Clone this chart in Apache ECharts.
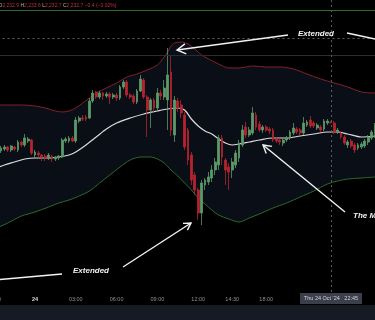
<!DOCTYPE html>
<html><head><meta charset="utf-8">
<script src="https://cdn.jsdelivr.net/npm/echarts/dist/echarts.min.js"></script>
<style>html,body{margin:0;padding:0;background:#000;}#c{width:375px;height:320px;}</style>
</head><body><div id="c"></div>
<script>
// 15-minute candles, index 0 = 21:00 (23 Oct)
const opens = [2218.2,2219.7,2218.7,2219.7,2220.7,2219.2,2220.7,2219.2,2223.2,2221.7,2223.7,2224.2,2216.7,2217.7,2216.7,2216.2,2215.2,2216.2,2214.7,2215.2,
2215.7,2223.7,2223.7,2225.2,2223.7,2233.7,2235.2,2235.7,2235.2,2243.7,2248.2,2245.7,2247.7,2246.2,2247.2,2245.7,2246.7,2245.2,2250.7,2253.2,
2246.7,2246.2,2243.2,2248.7,2254.2,2245.7,2239.2,2244.2,2240.2,2247.7,2245.7,2244.2,2258.2,2226.7,2243.7,2241.7,2236.7,2229.2,2216.7,2206.7,
2199.2,2187.7,2201.7,2203.2,2205.2,2209.2,2211.7,2225.2,2214.2,2210.7,2209.2,2211.7,2215.2,2221.7,2230.7,2226.7,2227.7,2236.7,2232.2,2229.2,
2230.7,2229.7,2229.2,2224.7,2224.2,2222.7,2224.2,2225.2,2227.7,2229.7,2229.2,2227.7,2231.7,2234.2,2232.7,2230.2,2230.7,2229.7,2232.7,2232.9,
2232.7,2228.2,2227.7,2225.7,2221.7,2223.7,2221.7,2220.2,2220.7,2221.2,2223.2,2225.2,2227.7];
const closes = [2219.7,2218.7,2220.2,2220.7,2219.2,2221.2,2219.7,2223.2,2221.7,2225.2,2224.7,2217.7,2218.2,2216.7,2215.7,2215.2,2216.7,2214.7,2215.7,2216.2,
2224.2,2224.7,2225.2,2223.7,2234.2,2235.2,2234.7,2234.7,2243.7,2247.7,2245.7,2247.7,2246.2,2247.2,2245.7,2246.7,2245.2,2250.7,2253.2,2246.7,
2245.7,2243.2,2248.7,2254.7,2245.7,2239.2,2244.2,2240.2,2247.7,2246.2,2250.2,2256.7,2229.2,2244.2,2240.2,2237.7,2220.7,2214.2,2204.2,2199.2,
2187.7,2202.7,2204.2,2205.7,2209.2,2213.2,2225.2,2215.7,2209.2,2208.2,2213.2,2217.7,2222.7,2229.2,2226.7,2229.2,2237.7,2230.7,2229.2,2230.7,
2229.2,2228.7,2224.2,2223.7,2223.2,2224.2,2225.2,2228.2,2230.2,2228.2,2227.7,2232.7,2233.2,2231.2,2231.2,2231.7,2229.2,2233.7,2233.7,2232.7,
2228.2,2229.2,2225.7,2222.7,2223.2,2221.2,2219.2,2221.7,2222.2,2223.7,2225.7,2228.2,2231.7];
const lows = [2217.2,2217.7,2217.7,2218.7,2218.2,2218.2,2218.7,2218.2,2220.7,2220.7,2222.7,2216.7,2215.2,2215.2,2213.7,2213.7,2214.2,2213.2,2213.7,2214.2,
2215.2,2222.7,2222.7,2223.2,2222.7,2232.7,2233.7,2233.7,2234.7,2242.7,2244.7,2244.7,2244.2,2245.2,2242.2,2244.7,2243.7,2244.2,2249.7,2245.7,
2244.7,2242.2,2242.2,2248.2,2244.7,2225.7,2230.2,2238.2,2239.2,2244.2,2244.2,2229.2,2226.2,2223.2,2238.2,2235.2,2219.2,2211.7,2201.7,2196.7,
2184.2,2181.7,2199.2,2201.7,2203.2,2206.7,2209.2,2211.7,2201.7,2199.2,2205.2,2210.2,2213.2,2220.7,2225.2,2225.7,2226.7,2229.2,2228.2,2227.7,
2228.2,2227.2,2223.2,2222.7,2221.7,2221.2,2223.2,2224.2,2226.7,2227.2,2226.7,2226.7,2230.7,2230.2,2230.2,2229.2,2228.2,2228.7,2231.7,2232.7,
2227.2,2227.2,2224.7,2221.7,2220.2,2220.2,2217.7,2219.2,2219.7,2220.2,2221.7,2224.2,2225.2];
const highs = [2220.7,2220.7,2221.2,2221.7,2221.2,2221.7,2221.2,2224.2,2223.7,2227.2,2225.7,2224.7,2219.2,2218.7,2217.2,2217.2,2217.7,2216.7,2216.2,2216.7,
2225.2,2225.7,2226.2,2226.2,2235.7,2236.2,2236.7,2236.7,2245.2,2249.2,2248.7,2248.7,2248.2,2248.2,2248.2,2247.7,2247.7,2251.7,2254.2,2254.2,
2247.7,2247.2,2249.7,2256.7,2255.2,2246.7,2245.2,2245.2,2250.2,2249.2,2254.2,2270.2,2266.7,2246.2,2245.2,2244.2,2238.2,2230.2,2218.2,2208.2,
2200.2,2204.2,2205.2,2208.2,2211.7,2215.2,2226.7,2226.7,2215.2,2212.7,2215.2,2219.2,2224.2,2231.7,2233.2,2230.7,2240.7,2238.2,2233.7,2231.7,
2231.7,2230.7,2230.2,2225.7,2225.2,2225.2,2226.2,2229.2,2232.7,2230.7,2230.2,2235.7,2234.2,2236.2,2233.7,2232.7,2231.7,2234.7,2234.7,2233.6,
2233.7,2230.2,2228.7,2226.7,2224.2,2224.7,2222.7,2222.7,2223.2,2224.7,2226.7,2229.2,2232.7];

// Bollinger bands: [candle index, price]
const upperBand = [[0,2241.7],[4,2241.7],[8,2241.7],[12,2241.2],[15,2240.2],[18,2238.7],[20,2238.2],[22,2238.7],[24,2240.2],[26,2242.7],
[28,2245.2],[30,2247.7],[33,2250.2],[36,2252.7],[39,2255.7],[42,2257.2],[45,2259.2],[48,2261.7],[50,2265.7],[51,2268.2],[52,2271.2],[53,2272.7],
[55,2273.2],[57,2272.2],[59,2269.7],[61,2266.7],[63,2264.7],[66,2262.2],[69,2260.2],[72,2260.2],[76,2261.2],[80,2260.7],[84,2260.7],[88,2259.7],
[92,2257.2],[96,2254.7],[100,2252.7],[104,2250.7],[108,2248.2],[112,2247.7]];
const middleBand = [[0,2209.7],[3,2211.7],[6,2213.2],[9,2214.7],[12,2215.2],[16,2215.2],[19,2215.7],[22,2216.7],[24,2218.2],[27,2221.7],
[30,2225.7],[33,2229.7],[36,2232.7],[40,2235.2],[44,2237.2],[48,2238.7],[51,2239.7],[54,2240.2],[56,2239.2],[58,2234.7],[60,2231.2],[62,2228.7],
[64,2227.2],[66,2224.7],[68,2222.7],[70,2221.7],[72,2222.2],[75,2223.2],[78,2224.2],[82,2225.2],[86,2225.2],[90,2226.2],[94,2227.2],[98,2228.2],
[101,2228.2],[104,2227.2],[108,2225.7],[112,2226.2]];
const lowerBand = [[0,2179.7],[4,2182.7],[8,2186.2],[12,2188.2],[16,2190.7],[19,2192.7],[22,2194.2],[25,2196.2],[28,2198.7],[31,2202.7],
[34,2206.7],[37,2210.7],[40,2214.2],[43,2215.7],[46,2215.7],[48,2214.7],[50,2212.7],[52,2209.2],[54,2206.2],[56,2202.7],[58,2199.2],[60,2195.2],
[62,2192.2],[64,2189.2],[66,2186.7],[69,2184.7],[72,2183.2],[75,2185.2],[78,2187.2],[82,2190.2],[86,2192.7],[90,2195.7],[94,2198.7],[98,2202.2],
[101,2203.7],[104,2204.7],[108,2205.2],[112,2205.7]];

const tickLabels = [[0,'21:00'],[12,'24'],[24,'03:00'],[36,'06:00'],[48,'09:00'],[60,'12:00'],[70,'14:30'],[80,'18:00']];
const hoverIndex = 99;
const hoverLabel = "Thu 24 Oct '24   22:45";
const legendValues = ['2,232.9','2,233.6','2,232.7','2,232.7','−0.4 (−0.02%)'];
const levelGreen = 2289.2, levelCross = 2275.2, levelDim = 2266.7;

const N = opens.length;
const cats = opens.map((_, i) => String(i));
const labelMap = {}; tickLabels.forEach(t => { labelMap[t[0]] = t[1]; });
const candleData = opens.map((o, i) => [o, closes[i], lows[i], highs[i]]);

const chart = echarts.init(document.getElementById('c'), null, {renderer: 'canvas'});
const W = '#f2f2f2';
const FF = '"Liberation Sans", Arial, sans-serif';
const CROSS = '#5a5d66';
const option = {
  backgroundColor: '#000',
  animation: false,
  grid: {left: -7.5, right: -1.7, top: 0, bottom: 28, containLabel: false, outerBoundsMode: 'none'},
  xAxis: [
    {type: 'category', data: cats, boundaryGap: true,
     axisLine: {show: false}, axisTick: {show: false}, splitLine: {show: false},
     axisLabel: {interval: 0, margin: 4, fontSize: 5.5, color: '#8d9099', fontFamily: FF, hideOverlap: false,
       formatter: (v, i) => labelMap[i] === undefined ? '' : (labelMap[i] === '24' ? '{b|24}' : labelMap[i]),
       rich: {b: {fontWeight: 'bold', color: '#d6d8de', fontSize: 5.5, fontFamily: FF}}}},
    {type: 'value', min: -0.5, max: N - 0.5, show: false}
  ],
  yAxis: {type: 'value', min: 2148.2, max: 2294.2, show: false, splitLine: {show: false}},
  series: [
    {type: 'line', xAxisIndex: 1, data: upperBand, smooth: 0.3, symbol: 'none', silent: true, z: 1,
     lineStyle: {color: '#84202a', width: 1}, areaStyle: {color: '#0a0e17', opacity: 1, origin: 'start'}},
    {type: 'line', xAxisIndex: 1, data: lowerBand, smooth: 0.3, symbol: 'none', silent: true, z: 2,
     lineStyle: {color: '#2b6a2b', width: 1}, areaStyle: {color: '#000', opacity: 1, origin: 'start'}},
    {type: 'line', xAxisIndex: 1, data: middleBand, smooth: 0.3, symbol: 'none', silent: true, z: 3,
     lineStyle: {color: '#dcdcdc', width: 1.2}},
    {type: 'candlestick', data: candleData, barWidth: 2.2, z: 4, silent: true,
     itemStyle: {color: '#5b9a68', color0: '#b5232f', borderColor: '#5b9a68', borderColor0: '#b5232f', borderWidth: 0.8},
     markLine: {silent: true, symbol: ['none', 'none'], label: {show: false}, animation: false,
       emphasis: {disabled: true},
       data: [
         {yAxis: levelGreen, lineStyle: {color: '#2c6e2c', width: 1, type: 'solid'}},
         {yAxis: levelCross, lineStyle: {color: CROSS, width: 1, type: [2, 3]}},
         {yAxis: levelDim, lineStyle: {color: '#2a2d34', width: 1, type: 'solid'}}
       ]}}
  ],
  graphic: [
    {type: 'rect', shape: {x: 0, y: 305, width: 375, height: 15}, style: {fill: '#161a24'}, z: 100},
    {type: 'rect', shape: {x: 300, y: 293, width: 62, height: 11}, style: {fill: '#3b3f4a'}, z: 101},
    {type: 'text', x: 331, y: 298.5, z: 102, style: {text: hoverLabel, fill: '#d1d4dc', fontSize: 5.5, fontFamily: FF, align: 'center', verticalAlign: 'middle'}},
    {type: 'text', x: -1.5, y: 6, z: 102, style: {
      text: '{g|O}{r|' + legendValues[0] + '} {g|H}{r|' + legendValues[1] + '} {g|L}{r|' + legendValues[2] + '} {g|C}{r|' + legendValues[3] + '} {r|' + legendValues[4] + '}',
      fontSize: 5, fontFamily: FF, fill: '#b2b5be', verticalAlign: 'middle',
      rich: {g: {fill: '#b2b5be', fontSize: 5, fontFamily: FF}, r: {fill: '#c0303b', fontSize: 5, fontFamily: FF}}}},
    // annotations
    {type: 'line', z: 110, shape: {x1: 288, y1: 35, x2: 177, y2: 50}, style: {stroke: W, lineWidth: 1.4}},
    {type: 'polyline', z: 110, shape: {points: [[186.3, 53.8], [177, 50], [184.9, 43.9]]}, style: {stroke: W, lineWidth: 1.4, fill: null}},
    {type: 'line', z: 110, shape: {x1: 347, y1: 33, x2: 380, y2: 40}, style: {stroke: W, lineWidth: 1.4}},
    {type: 'text', x: 298, y: 34, z: 110, style: {text: 'Extended', fill: W, fontSize: 8, fontWeight: 'bold', fontStyle: 'italic', fontFamily: FF, verticalAlign: 'middle'}},
    {type: 'line', z: 110, shape: {x1: -5, y1: 280, x2: 62, y2: 274}, style: {stroke: W, lineWidth: 1.4}},
    {type: 'text', x: 73, y: 271, z: 110, style: {text: 'Extended', fill: W, fontSize: 8, fontWeight: 'bold', fontStyle: 'italic', fontFamily: FF, verticalAlign: 'middle'}},
    {type: 'line', z: 110, shape: {x1: 123, y1: 267, x2: 191, y2: 223}, style: {stroke: W, lineWidth: 1.4}},
    {type: 'polyline', z: 110, shape: {points: [[183, 223.4], [191, 223], [187.4, 230.1]]}, style: {stroke: W, lineWidth: 1.4, fill: null}},
    {type: 'line', z: 110, shape: {x1: 345, y1: 212, x2: 263, y2: 145}, style: {stroke: W, lineWidth: 1.4}},
    {type: 'polyline', z: 110, shape: {points: [[266.2, 153.4], [263, 145], [271.9, 146.4]]}, style: {stroke: W, lineWidth: 1.4, fill: null}},
    {type: 'text', x: 353, y: 216, z: 110, style: {text: 'The Middle Band', fill: W, fontSize: 8, fontWeight: 'bold', fontStyle: 'italic', fontFamily: FF, verticalAlign: 'middle'}}
  ]
};
chart.setOption(option);
// crosshair at the hovered candle, placed through the axis scale
const cx = Math.round(chart.convertToPixel({xAxisIndex: 0}, String(hoverIndex))) + 0.5;
option.graphic.push({type: 'line', z: 50, shape: {x1: cx, y1: 0, x2: cx, y2: 293},
  style: {stroke: CROSS, lineWidth: 1, lineDash: [2, 3]}});
chart.setOption(option, true);
</script>
</body></html>
